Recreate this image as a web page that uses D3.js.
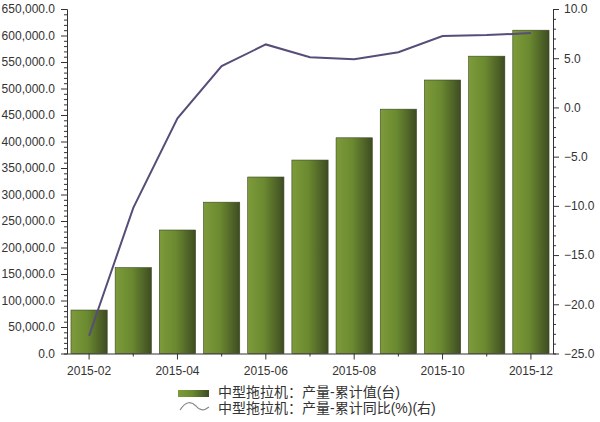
<!DOCTYPE html>
<html lang="zh">
<head>
<meta charset="UTF-8" />
<title>中型拖拉机产量</title>
<script src="https://d3js.org/d3.v7.min.js"></script>
<style>
    body { margin: 0; background: #fff; font-family: "Liberation Sans", Arial, sans-serif; }
    svg text { fill: #333; }
</style>
</head>
<body>
<svg id="chart" width="600" height="422"></svg>
<script>
    const months = ["2015-02", "2015-03", "2015-04", "2015-05", "2015-06", "2015-07",
        "2015-08", "2015-09", "2015-10", "2015-11", "2015-12"];
    const cumValue = [82000, 162000, 233000, 285500, 333000, 365000,
        407000, 461000, 516000, 561000, 610000];
    const cumYoY = [-23.2, -10.2, -1.1, 4.2, 6.4, 5.1, 4.9, 5.6, 7.25, 7.35, 7.55];
    const labelMonths = ["2015-02", "2015-04", "2015-06", "2015-08", "2015-10", "2015-12"];
    const legendNames = ["中型拖拉机：产量-累计值(台)", "中型拖拉机：产量-累计同比(%)(右)"];

    const svg = d3.select("#chart");
    const plotLeft = 67, plotRight = 553, plotTop = 9, plotBottom = 353.5;

    const x = d3.scaleBand().domain(months).range([plotLeft, plotRight]).paddingInner(0.18).paddingOuter(0.09);
    const yL = d3.scaleLinear().domain([0, 650000]).range([plotBottom, plotTop]);
    const yR = d3.scaleLinear().domain([-25, 10]).range([plotBottom, plotTop]);

    // gradient for bars
    const defs = svg.append("defs");
    const grad = defs.append("linearGradient").attr("id", "barGrad")
        .attr("x1", "0%").attr("x2", "100%").attr("y1", "0%").attr("y2", "0%");
    grad.append("stop").attr("offset", "0%").attr("stop-color", "#7d9b3a");
    grad.append("stop").attr("offset", "45%").attr("stop-color", "#6b8a30");
    grad.append("stop").attr("offset", "100%").attr("stop-color", "#3e4c22");

    // bars
    svg.append("g").selectAll("rect").data(months).join("rect")
        .attr("x", d => x(d))
        .attr("y", (d, i) => yL(cumValue[i]))
        .attr("width", x.bandwidth())
        .attr("height", (d, i) => plotBottom - yL(cumValue[i]))
        .attr("fill", "url(#barGrad)")
        .attr("stroke", "#3a4420")
        .attr("stroke-width", 0.6);

    // line
    const line = d3.line()
        .x((d, i) => x(months[i]) + x.bandwidth() / 2)
        .y(d => yR(d));
    svg.append("path").datum(cumYoY)
        .attr("d", line)
        .attr("fill", "none")
        .attr("stroke", "#574d78")
        .attr("stroke-width", 2);

    // left axis
    const gL = svg.append("g").attr("transform", `translate(${plotLeft},0)`);
    gL.call(d3.axisLeft(yL).tickValues(d3.range(0, 650001, 10000)).tickSize(3).tickFormat(""));
    gL.call(g => g.selectAll(".tick").filter(d => d % 50000 === 0).select("line").attr("x2", -6));
    gL.append("g").call(d3.axisLeft(yL).tickValues(d3.range(0, 650001, 50000))
        .tickSize(0).tickPadding(12).tickFormat(d3.format(",.1f")))
        .call(g => g.select(".domain").remove());

    // right axis
    const gR = svg.append("g").attr("transform", `translate(${plotRight},0)`);
    gR.call(d3.axisRight(yR).tickValues(d3.range(-25, 10.01, 1)).tickSize(3).tickFormat(""));
    gR.call(g => g.selectAll(".tick").filter(d => d % 5 === 0).select("line").attr("x2", 6));
    gR.append("g").call(d3.axisRight(yR).tickValues(d3.range(-25, 10.01, 5))
        .tickSize(0).tickPadding(11).tickFormat(d3.format(".1f")))
        .call(g => g.select(".domain").remove());

    // bottom axis
    const gB = svg.append("g").attr("transform", `translate(0,${plotBottom})`);
    gB.call(d3.axisBottom(x).tickSize(3).tickSizeOuter(0).tickFormat(""));
    gB.call(g => g.selectAll(".tick").filter(d => labelMonths.includes(d)).select("line").attr("y2", 6));
    gB.call(g => g.select(".domain").attr("d", `M${plotLeft},0.5H${plotRight}`));
    gB.append("g").call(d3.axisBottom(x).tickValues(labelMonths).tickSize(0).tickPadding(13))
        .call(g => g.select(".domain").remove());

    svg.selectAll(".domain, .tick line").attr("stroke", "#333");
    svg.selectAll(".tick text").attr("font-size", 12)
        .attr("font-family", "'Liberation Sans', Arial, sans-serif").style("fill", "#333");

    // legend
    const lg = svg.append("g")
        .attr("font-family", "'Liberation Sans', 'Noto Sans CJK SC', sans-serif")
        .attr("font-size", 14);
    lg.append("rect").attr("x", 178).attr("y", 390).attr("width", 31).attr("height", 7)
        .attr("fill", "url(#barGrad)");
    lg.append("path")
        .attr("d", "M180,410 C186,401 191,401 196,406 C200,411 204,411 209,407")
        .attr("fill", "none").attr("stroke", "#888").attr("stroke-width", 1.2);
    lg.selectAll("text").data(legendNames).join("text")
        .attr("x", 218)
        .attr("y", (d, i) => 397 + i * 16)
        .text(d => d);
</script>
</body>
</html>
